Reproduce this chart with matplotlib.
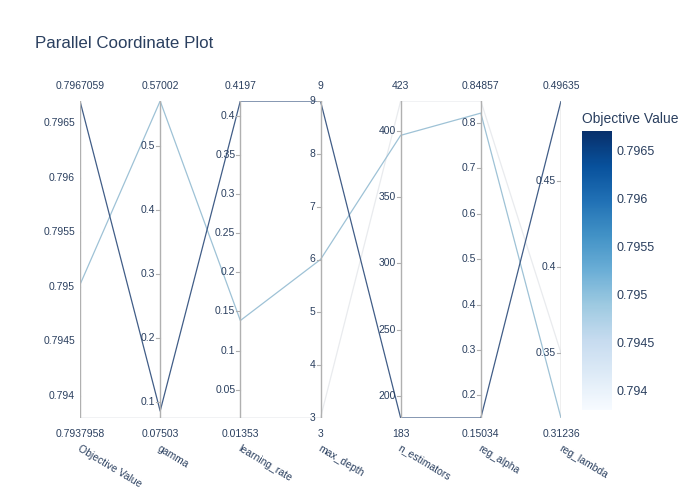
import numpy as np
import matplotlib.pyplot as plt
from matplotlib import cm, colors

plt.rcParams['font.family'] = ['Liberation Sans', 'DejaVu Sans']

# dimensions shown on the parallel axes
dims = ['Objective Value', 'gamma', 'learning_rate', 'max_depth',
        'n_estimators', 'reg_alpha', 'reg_lambda']

# one row per trial
objective = [0.7967059, 0.79502, 0.7937958]
gamma = [0.0859, 0.57002, 0.07503]
learning_rate = [0.4197, 0.1384, 0.01353]
max_depth = [9, 6, 3]
n_estimators = [183, 397, 423]
reg_alpha = [0.15034, 0.8219, 0.84857]
reg_lambda = [0.49635, 0.31236, 0.35]

# axis tick values
ticks = [
    [0.794, 0.7945, 0.795, 0.7955, 0.796, 0.7965],
    [0.1, 0.2, 0.3, 0.4, 0.5],
    [0.05, 0.1, 0.15, 0.2, 0.25, 0.3, 0.35, 0.4],
    [3, 4, 5, 6, 7, 8, 9],
    [200, 250, 300, 350, 400],
    [0.2, 0.3, 0.4, 0.5, 0.6, 0.7, 0.8],
    [0.35, 0.4, 0.45],
]
end_labels = [('0.7967059', '0.7937958'), ('0.57002', '0.07503'),
              ('0.4197', '0.01353'), ('9', '3'), ('423', '183'),
              ('0.84857', '0.15034'), ('0.49635', '0.31236')]

data = np.array([objective, gamma, learning_rate, max_depth,
                 n_estimators, reg_alpha, reg_lambda]).T
lo = data.min(axis=0)
hi = data.max(axis=0)
norm_data = (data - lo) / (hi - lo)

txt = '#2a3f5f'
W, H = 700, 500
fig = plt.figure(figsize=(7, 5), dpi=100)
ax = fig.add_axes([80 / W, 82 / H, 481 / W, 317 / H])
ax.set_xlim(0, 6)
ax.set_ylim(0, 1)
ax.axis('off')

cmap = plt.colormaps['Blues']
cnorm = colors.Normalize(vmin=min(objective), vmax=max(objective))
xs = np.arange(len(dims))

# lightest first so the best trial sits on top
order = np.argsort(objective)
for i in order:
    c = np.array(cmap(cnorm(objective[i]))[:3])
    c = 0.7 * c + 0.3 * np.array([0.78, 0.78, 0.78])
    ax.plot(xs, norm_data[i], color=c, lw=0.9, zorder=2)

px = 6 / 481  # data units per pixel in x
py = 1 / 317
for j, name in enumerate(dims):
    ax.plot([j, j], [0, 1], color='#b0b0b0', lw=1, zorder=3)
    for t in ticks[j]:
        y = (t - lo[j]) / (hi[j] - lo[j])
        ax.plot([j - 4 * px, j], [y, y], color='#b0b0b0', lw=0.8, zorder=3)
        ax.text(j - 5 * px, y, f'{t:g}', ha='right', va='center',
                fontsize=7.5, color=txt, zorder=4)
    ax.text(j, 1 + 15 * py, end_labels[j][0], ha='center', va='center',
            fontsize=7.5, color=txt)
    ax.text(j, -16 * py, end_labels[j][1], ha='center', va='center',
            fontsize=7.5, color=txt)
    ax.text(j + 1 * px, -25 * py, name, ha='left', va='top', rotation=-31,
            rotation_mode='anchor', fontsize=7.5, color=txt)

fig.text(35 / W, 1 - 44 / H, 'Parallel Coordinate Plot', fontsize=12.2,
         color=txt, va='center', ha='left')

# colorbar
cax = fig.add_axes([582 / W, 90 / H, 30 / W, 279 / H])
sm = cm.ScalarMappable(norm=cnorm, cmap=cmap)
cb = fig.colorbar(sm, cax=cax, ticks=ticks[0])
cb.outline.set_visible(False)
cb.ax.tick_params(length=0, labelsize=9, labelcolor=txt, pad=3)
cb.ax.set_yticklabels([f'{t:g}' for t in ticks[0]])
fig.text(582 / W, 1 - 119 / H, 'Objective Value', fontsize=10,
         color=txt, va='center', ha='left')

fig.savefig('out.png', dpi=100)
